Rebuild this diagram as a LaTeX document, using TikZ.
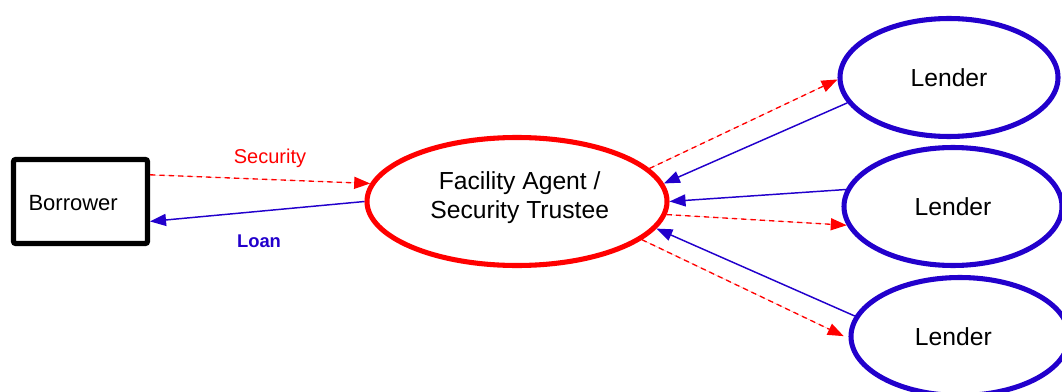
\documentclass[tikz,border=0pt]{standalone}
\usepackage{fontspec}
\setmainfont{Liberation Sans}
\usetikzlibrary{shapes.geometric,arrows.meta}
\definecolor{lblue}{RGB}{34,0,204}
\definecolor{lred}{RGB}{255,0,0}
\begin{document}
\begin{tikzpicture}[x=0.75pt,y=-0.75pt,
  lenderbox/.style={ellipse,draw=lblue,line width=3.8pt,minimum width=218*0.75pt,minimum height=118*0.75pt,inner sep=0pt,font=\fontsize{18.5}{22}\selectfont},
  agentbox/.style={ellipse,draw=lred,line width=3.8pt,minimum width=300*0.75pt,minimum height=128*0.75pt,inner sep=0pt,align=center,font=\fontsize{18.5}{22}\selectfont},
  borrowerbox/.style={rectangle,draw=black,line width=3.8pt,rounded corners=1.5pt,minimum width=134*0.75pt,minimum height=84*0.75pt,inner sep=0pt},
  secline/.style={draw=lred,line width=1pt,dashed,dash pattern=on 4pt off 3pt,-{Triangle[length=12pt,width=9pt]},fill=lred},
  loanline/.style={draw=lblue,line width=1.1pt,-{Triangle[length=12pt,width=9pt]},fill=lblue}]
\useasboundingbox (0,0) rectangle (1062,392);
\node[borrowerbox,label={[font=\fontsize{16.5}{20}\selectfont,xshift=-5.5pt,yshift=-1pt]center:Borrower}] (bor) at (80.5,201.5) {};
\node[agentbox,label={[font=\fontsize{18.5}{22}\selectfont,align=center,xshift=2pt,yshift=3pt]center:Facility Agent /\\Security Trustee}] (fa) at (517,201.5) {};
\node[lenderbox] (l1) at (949,77.5) {Lender};
\node[lenderbox] (l2) at (953,206.5) {Lender};
\node[lenderbox,label={[font=\fontsize{18.5}{22}\selectfont,xshift=-5pt]center:Lender}] (l3) at (960,336.5) {};
\node[text=lred,font=\fontsize{15}{18}\selectfont] (sec) at (270,158) {Security};
\node[text=lblue,font=\bfseries\fontsize{13.8}{16}\selectfont] (loan) at (259,241) {Loan};
% borrower
\draw[secline] (bor.21.6) -- (fa.173.4);
\draw[loanline] (fa.180.8) -- (bor.-16.4);
% lender 1
\draw[secline] (fa.14.6) -- (l1.181.5);
\draw[loanline] (l1.194) -- (fa.7.8);
% lender 2
\draw[loanline] (l2.171.9) -- (fa.0);
\draw[secline] (fa.-5.2) -- (l2.190.5);
% lender 3
\draw[loanline] (l3.169.7) -- (fa.-11.2);
\draw[secline,shorten >=4pt] (fa.-17.5) -- (l3.181);
\end{tikzpicture}
\end{document}
